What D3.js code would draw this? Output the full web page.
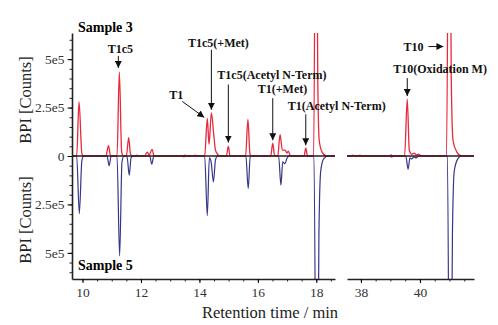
<!DOCTYPE html>
<html>
<head>
<meta charset="utf-8">
<script src="https://cdn.jsdelivr.net/npm/d3@7"></script>
<style>
  body { margin: 0; background: #fff; }
  text { font-family: "Liberation Serif", "Times New Roman", serif; }
</style>
</head>
<body>
<script>
// chromatogram traces, [time in min, intensity in units of 1e5 counts]
var sample3Left = [
  [9.64,0],[9.80,0],[9.88,2.8],[9.98,0.1],[10.05,0],
  [10.80,0],[10.89,0.53],[10.96,0],
  [11.18,0],[11.26,4.34],[11.34,0.2],[11.40,0],
  [11.50,0],[11.58,0.95],[11.64,0.1],[11.70,0],
  [11.82,0],[11.86,0.05],[11.90,0],
  [12.12,0],[12.22,0.2],[12.28,0.05],[12.38,0.34],[12.45,0],
  [13.45,0],[13.51,0.04],[13.57,0],[13.79,0],[13.85,0.04],[13.91,0],
  [14.18,0],[14.27,1.94],[14.33,0.6],[14.41,2.23],[14.49,1.12],[14.55,0.3],[14.62,0.1],[14.70,0],
  [14.92,0],[14.99,0.49],[15.05,0],
  [15.58,0],[15.66,1.89],[15.73,0.1],[15.78,0],
  [16.44,0],[16.51,0.66],[16.57,0.05],[16.68,0],[16.76,1.1],[16.84,0.3],[16.93,0.3],[17.0,0.15],[17.04,0.25],[17.12,0],
  [17.58,0],[17.64,0.4],[17.70,0],
  [17.91,0],[17.99,20],[18.05,4],[18.10,0.8],[18.20,0.2],[18.35,0],[18.64,0]
];
var sample5Left = [
  [9.64,0],[9.80,0],[9.89,2.97],[9.98,0.2],[10.05,0],
  [10.84,0],[10.91,0.5],[10.98,0],
  [11.18,0],[11.27,5.16],[11.35,0.3],[11.42,0],
  [11.52,0],[11.60,0.99],[11.66,0.1],[11.72,0],
  [12.30,0],[12.37,0.42],[12.44,0],
  [13.42,0],[13.47,0.04],[13.52,0],
  [14.18,0],[14.27,3.08],[14.34,0.1],[14.40,0.3],[14.48,1.34],[14.55,0.2],[14.62,0],
  [15.59,0],[15.67,1.68],[15.74,0],
  [16.71,0],[16.79,1.51],[16.85,0.3],[16.93,0.4],[17.0,0.1],[17.08,0],
  [17.92,0],[18.02,20],[18.09,4],[18.15,0.8],[18.25,0.15],[18.40,0],[18.64,0]
];
var sample3Right = [
  [37.53,0],[37.68,0],[37.73,0.04],[37.78,0],[37.92,0],[37.97,0.04],[38.02,0],
  [38.96,0],[39.02,0.06],[39.08,0],
  [39.48,0],[39.57,2.94],[39.64,0.3],[39.72,0.1],[39.80,0.15],[39.89,0.06],[39.95,0.1],[40.0,0.05],[40.05,0],
  [40.90,0],[40.99,20],[41.06,4],[41.12,0.8],[41.25,0.2],[41.40,0],[41.83,0]
];
var sample5Right = [
  [37.53,0],[38.98,0],[39.04,0.05],[39.10,0],
  [39.52,0],[39.60,0.68],[39.66,0.1],[39.72,0.15],[39.80,0.05],[39.88,0.1],[39.95,0],
  [40.93,0],[41.02,20],[41.10,4],[41.16,0.8],[41.28,0.15],[41.40,0],[41.83,0]
];

var leftTicks = [10, 12, 14, 16, 18];
var rightTicks = [38, 40];
var yTicks = [5, 2.5, 0, -2.5, -5];

var annLabels = ["T1c5", "T1", "T1c5(+Met)", "T1c5(Acetyl N-Term)", "T1(+Met)", "T1(Acetyl N-Term)", "T10(Oxidation M)", "T10"];
var annTimes = [11.26, 14.27, 14.41, 14.99, 16.51, 17.64, 39.57, 40.93];
var annValues = [4.34, 1.94, 2.23, 0.49, 0.66, 0.4, 2.94, 5.65];

var width = 498, height = 325;
var red = "#e8283c", blue = "#35358a";

var svg = d3.select("body").append("svg")
    .attr("width", width)
    .attr("height", height);

var defs = svg.append("defs");
defs.append("marker")
    .attr("id", "head")
    .attr("viewBox", "0 0 10 10")
    .attr("refX", 10).attr("refY", 5)
    .attr("markerWidth", 7).attr("markerHeight", 7)
    .attr("markerUnits", "userSpaceOnUse")
    .attr("orient", "auto")
  .append("path")
    .attr("d", "M0,0L10,5L0,10z")
    .attr("fill", "#111");

var y = d3.scaleLinear().domain([6.35, -6.35]).range([33, 279]);

var panels = [
  {x: d3.scaleLinear().domain([9.64, 18.64]).range([72, 335]), ticks: leftTicks, s3: sample3Left, s5: sample5Left},
  {x: d3.scaleLinear().domain([37.53, 41.83]).range([347, 474]), ticks: rightTicks, s3: sample3Right, s5: sample5Right}
];

panels.forEach(function (p, i) {
    var r = p.x.range();
    defs.append("clipPath").attr("id", "clip" + i)
      .append("rect")
        .attr("x", r[0]).attr("y", y.range()[0])
        .attr("width", r[1] - r[0]).attr("height", y.range()[1] - y.range()[0]);

    var g = svg.append("g").attr("clip-path", "url(#clip" + i + ")");

    var line3 = d3.line().curve(d3.curveMonotoneX)
        .x(function (d) { return p.x(d[0]); })
        .y(function (d) { return y(d[1]); });
    var line5 = d3.line().curve(d3.curveMonotoneX)
        .x(function (d) { return p.x(d[0]); })
        .y(function (d) { return y(-d[1]); });

    g.append("path").datum(p.s5)
        .attr("fill", "none").attr("stroke", blue).attr("stroke-width", 1.2)
        .attr("d", line5);
    g.append("path").datum(p.s3)
        .attr("fill", "none").attr("stroke", red).attr("stroke-width", 1.3)
        .attr("d", line3);

    // zero line
    svg.append("line")
        .attr("x1", r[0]).attr("x2", r[1])
        .attr("y1", y(0)).attr("y2", y(0))
        .attr("stroke", "#2a1a1a").attr("stroke-width", 1.6);

    // bottom axis with minor ticks
    var minor = d3.range(Math.ceil(p.x.domain()[0] * 2) / 2, p.x.domain()[1], 0.5);
    svg.append("g")
        .attr("transform", "translate(0," + y.range()[1] + ")")
        .call(d3.axisBottom(p.x).tickValues(minor).tickSize(2.5).tickFormat(""))
        .call(function (a) { a.select(".domain").remove(); a.selectAll("line").attr("stroke", "#222"); });
    var ax = svg.append("g")
        .attr("transform", "translate(0," + y.range()[1] + ")")
        .call(d3.axisBottom(p.x).tickValues(p.ticks).tickSize(4).tickSizeOuter(0).tickPadding(4).tickFormat(d3.format("d")));
    ax.select(".domain").attr("stroke", "#222").attr("stroke-width", 1.6);
    ax.selectAll("text").attr("font-size", 13.5).attr("fill", "#333")
        .style("font-family", "'Liberation Serif', serif");
});

// left axis
var minorY = d3.range(-6, 6.01, 0.5);
svg.append("g")
    .attr("transform", "translate(72,0)")
    .call(d3.axisLeft(y).tickValues(minorY).tickSize(2.5).tickFormat(""))
    .call(function (a) { a.select(".domain").remove(); a.selectAll("line").attr("stroke", "#222"); });
var ay = svg.append("g")
    .attr("transform", "translate(72,0)")
    .call(d3.axisLeft(y).tickValues(yTicks).tickSize(4.5).tickSizeOuter(0).tickPadding(3)
        .tickFormat(function (d) { return d === 0 ? "0" : Math.abs(d) + "e5"; }));
ay.select(".domain").attr("stroke", "#222").attr("stroke-width", 1.6);
ay.selectAll("text").attr("font-size", 13.5).attr("fill", "#333")
    .style("font-family", "'Liberation Serif', serif");

// axis titles
[100, 220].forEach(function (cy) {
    svg.append("text")
        .attr("transform", "translate(31," + cy + ") rotate(-90)")
        .attr("text-anchor", "middle")
        .style("font-size", "16.5px")
        .attr("fill", "#222")
        .text("BPI [Counts]");
});
svg.append("text")
    .attr("x", 270).attr("y", 318)
    .attr("text-anchor", "middle")
    .style("font-size", "16.5px")
    .attr("fill", "#222")
    .text("Retention time / min");

svg.append("text").attr("x", 78).attr("y", 32)
    .style("font-size", "14px").style("font-weight", "bold").text("Sample 3");
svg.append("text").attr("x", 78).attr("y", 270)
    .style("font-size", "14px").style("font-weight", "bold").text("Sample 5");

// annotation layout: arrow tip offset, tail offset, text offset, anchor
var annLayout = [
  {tip: [-1, -4], tail: [-1, -16], txt: [1, -19], anchor: "middle"},
  {tip: [-3, -1], tail: [-25, -17], txt: [-24, -19], anchor: "end"},
  {tip: [0, -3], tail: [0, -63], txt: [7, -66], anchor: "middle"},
  {tip: [0, -4], tail: [0, -62], txt: [-11, -68], anchor: "start"},
  {tip: [0, -3], tail: [0, -45], txt: [-15, -50], anchor: "start"},
  {tip: [0, -3], tail: [0, -34], txt: [-18, -38], anchor: "start"},
  {tip: [0, -3], tail: [0, -21], txt: [-14, -26], anchor: "start"},
  {tip: [-4, 0], tail: [-19, 0], txt: [-24, 4], anchor: "end"}
];

var xl = panels[0].x, xr = panels[1].x;
annLabels.forEach(function (lab, i) {
    var xs = annTimes[i] > 30 ? xr : xl;
    var px = xs(annTimes[i]), py = y(annValues[i]);
    var L = annLayout[i];
    svg.append("line")
        .attr("x1", px + L.tail[0]).attr("y1", py + L.tail[1])
        .attr("x2", px + L.tip[0]).attr("y2", py + L.tip[1])
        .attr("stroke", "#111").attr("stroke-width", 1)
        .attr("marker-end", "url(#head)");
    svg.append("text")
        .attr("x", px + L.txt[0]).attr("y", py + L.txt[1])
        .attr("text-anchor", L.anchor)
        .style("font-size", "12px").style("font-weight", "bold")
        .attr("fill", "#111")
        .text(lab);
});
</script>
</body>
</html>
